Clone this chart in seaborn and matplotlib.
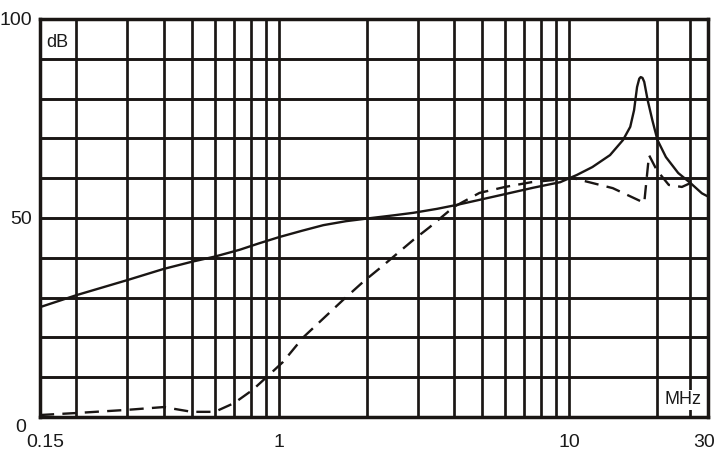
import matplotlib
matplotlib.use("Agg")
import matplotlib.pyplot as plt
import matplotlib.transforms as mtransforms
import pandas as pd
import seaborn as sns

# -----------------------------
# Data
# -----------------------------
solid_freq = [0.15, 0.2, 0.3, 0.4, 0.5, 0.6, 0.73, 0.85, 1.0, 1.2, 1.42,
              1.7, 2.08, 2.5, 2.9, 3.5, 4.1, 5.0, 6.0, 7.5, 9.3, 10.6, 12.0,
              13.8, 15.3, 16.2, 16.7, 17.1, 17.4, 17.6, 17.85, 18.1, 18.6,
              19.3, 20.1, 21.5, 23.7, 26.1, 28.6, 30.0]
solid_db = [27.6, 30.6, 34.4, 37.2, 39.0, 40.3, 42.0, 43.6, 45.2, 46.8, 48.2,
            49.2, 50.0, 50.7, 51.3, 52.3, 53.3, 54.7, 56.0, 57.6, 59.0, 60.8,
            62.8, 65.8, 69.6, 72.9, 77.1, 82.9, 85.0, 85.4, 85.2, 84.2, 79.6,
            74.6, 69.6, 65.3, 61.3, 58.8, 56.2, 55.4]

dashed_freq = [0.15, 0.2, 0.3, 0.4, 0.5, 0.6, 0.7, 0.81, 0.93, 1.03, 1.21,
               1.66, 1.95, 2.25, 2.9, 3.3, 4.0, 4.9, 6.0, 7.4, 10.3, 14.1,
               18.1, 18.8, 20.0, 22.0, 24.4, 27.5]
dashed_db = [0.5, 1.0, 1.8, 2.5, 1.3, 1.3, 3.5, 6.8, 10.8, 13.8, 20.0, 29.4,
             34.0, 37.7, 44.5, 47.7, 52.8, 56.3, 57.8, 59.0, 60.0, 57.5,
             53.8, 65.8, 62.0, 58.3, 57.8, 59.5]

x_tick_vals = [0.15, 1, 10, 30]
x_tick_labels = ["0.15", "1", "10", "30"]
y_tick_vals = [0, 50, 100]
x_grid = [0.2, 0.3, 0.4, 0.5, 0.6, 0.7, 0.8, 0.9, 1, 2, 3, 4, 5, 6, 7, 8, 9,
          10, 20, 26]
y_grid = [10, 20, 30, 40, 50, 60, 70, 80, 90]


def main():
    sns.set_style("white")
    plt.rcParams["font.family"] = ["Liberation Sans", "DejaVu Sans"]

    ink = "#1a1614"
    fig = plt.figure(figsize=(7.19, 4.57), dpi=100)
    ax = fig.add_axes([0.0556, 0.0875, 0.929, 0.871])

    # grid
    for xv in x_grid:
        ax.axvline(xv, color=ink, lw=1.95, zorder=1)
    for yv in y_grid:
        ax.axhline(yv, color=ink, lw=2.1, zorder=1)

    solid = pd.DataFrame({"f": solid_freq, "db": solid_db})
    dashed = pd.DataFrame({"f": dashed_freq, "db": dashed_db})

    sns.lineplot(data=solid, x="f", y="db", ax=ax, color=ink, lw=1.7,
                 sort=False, zorder=3)
    sns.lineplot(data=dashed, x="f", y="db", ax=ax, color=ink, lw=1.7,
                 sort=False, zorder=3)
    ax.lines[-1].set_linestyle((0, (6, 3.5)))
    for ln in ax.lines[-2:]:
        ln.set_solid_joinstyle("round")
        ln.set_dash_joinstyle("round")

    ax.set_xscale("log")
    ax.set_xlim(0.15, 30)
    ax.set_ylim(0, 100)

    ax.set_xticks(x_tick_vals)
    ax.set_xticklabels(x_tick_labels)
    ax.xaxis.set_minor_locator(matplotlib.ticker.NullLocator())
    ax.set_yticks(y_tick_vals)
    ax.set_yticklabels([str(v) for v in y_tick_vals])
    ax.tick_params(length=0, labelsize=14, colors="#1a1a1a", pad=12)
    ax.tick_params(axis="y", pad=6)
    ax.set_xlabel("")
    ax.set_ylabel("")

    # nudge a few labels like the reference
    lbls = ax.get_xticklabels()
    off = mtransforms.ScaledTranslation(5 / 100, 0, fig.dpi_scale_trans)
    lbls[0].set_transform(lbls[0].get_transform() + off)
    off = mtransforms.ScaledTranslation(-4 / 100, 0, fig.dpi_scale_trans)
    lbls[-1].set_transform(lbls[-1].get_transform() + off)
    ylbls = ax.get_yticklabels()
    off = mtransforms.ScaledTranslation(-6 / 100, -8 / 100, fig.dpi_scale_trans)
    ylbls[0].set_transform(ylbls[0].get_transform() + off)

    for sp in ax.spines.values():
        sp.set_visible(True)
        sp.set_color(ink)
        sp.set_linewidth(2.5)

    ax.text(0.158, 94.2, "dB", fontsize=13, color="#1a1a1a",
            va="center", ha="left", zorder=4)
    ax.text(28.4, 4.3, "MHz", fontsize=13, color="#1a1a1a",
            va="center", ha="right", zorder=4,
            bbox=dict(facecolor="white", edgecolor="none", pad=1))

    fig.savefig("out.png", dpi=100)
    plt.close(fig)


if __name__ == "__main__":
    main()
